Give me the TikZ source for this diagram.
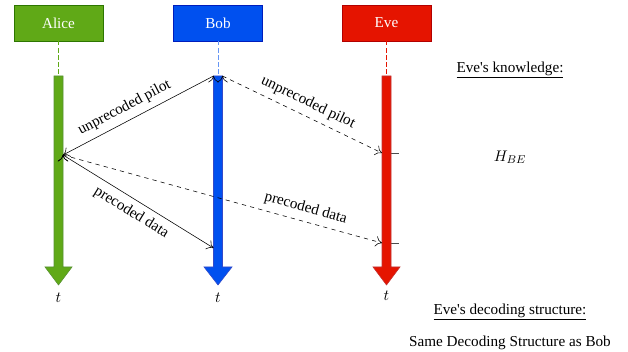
\documentclass[tikz,border=0pt]{standalone}
\usepackage{fontspec}
\setmainfont{Liberation Serif}
\usepackage{tikz}
\usetikzlibrary{arrows,arrows.meta,calc,positioning}
\definecolor{alicegreen}{HTML}{60A917}
\definecolor{aliceline}{HTML}{2D7600}
\definecolor{bobblue}{HTML}{0050EF}
\definecolor{bobline}{HTML}{001DBC}
\definecolor{evered}{HTML}{E51400}
\definecolor{eveline}{HTML}{B20000}

\begin{document}
\begin{tikzpicture}[x=0.025cm, y=-0.025cm, >={To[length=1.6mm,width=2.6mm]}, font=\fontsize{10.8}{13}\selectfont]
   \useasboundingbox (0,0) rectangle (628,352);
   \begin{scope}[every node/.style={rectangle,draw,text=white,minimum width=2.225cm,minimum height=0.9cm}]
    \node (alice) [fill=alicegreen, draw=aliceline] at (58.5,23) {Alice};
    \node (bob) [fill=bobblue, draw=bobline] at (218,23) {Bob};
    \node (eve) [fill=evered, draw=eveline] at (386.5,23) {Eve};
   \end{scope}

   % time bars
   \coordinate (atop) at (58.5,76);
   \coordinate (btop) at (218,76);
   \coordinate (etop) at (386.5,76);
   \draw [alicegreen, densely dashed] (alice.south) -- (atop);
   \draw [bobblue!60, densely dashed] (bob.south) -- (btop);
   \draw [evered, densely dashed] (eve.south) -- (etop);
   \draw [gray!60!black] (382,153) -- (399,153);
   \draw [gray!60!black] (382,243) -- (399,243);
   \filldraw [fill=alicegreen, draw=aliceline!80] (54,76) -- (54,267) -- (45,267) -- (58.5,285) -- (72,267) -- (63,267) -- (63,76) -- cycle;
   \filldraw [fill=bobblue, draw=bobline!80] (213.5,76) -- (213.5,267) -- (204,267) -- (218,285) -- (232,267) -- (222.5,267) -- (222.5,76) -- cycle;
   \filldraw [fill=evered, draw=eveline!80] (382,76) -- (382,267) -- (373,267) -- (386.5,285) -- (400,267) -- (391,267) -- (391,76) -- cycle;
   \node (ta) at (58.5,298) {$t$};
   \node (tb) at (218,298) {$t$};
   \node (te) at (386.5,296) {$t$};

   % messages
   \coordinate (a1) at (63,155);
   \coordinate (b0) at (213.5,76);
   \coordinate (b1) at (222.5,76);
   \coordinate (b2) at (213.5,248);
   \coordinate (e1) at (382,153);
   \coordinate (e2) at (382,243);
   \begin{scope}[->, every edge/.style={draw=black, thin}]
    \draw (b0) edge node[above=1pt, sloped, pos=0.55] {unprecoded pilot} (a1);
    \draw (b1) edge [dashed] node[above=1pt, sloped] {unprecoded pilot} (e1);
    \draw (a1) edge node[below=1pt, sloped] {precoded data} (b2);
    \draw (a1) edge [dashed] node[above=1pt, sloped, pos=0.75] {precoded data} (e2);
   \end{scope}

   % Eve's side
   \node (know) at (510,70) {\underline{Eve\textquotesingle s knowledge:}};
   \node (hbe) at (510,157) {$H_{BE}$};
   \node (struct) at (510,312) {\underline{Eve\textquotesingle s decoding structure:}};
   \node (same) [below=0.15cm of struct] {Same Decoding Structure as Bob};
\end{tikzpicture}
\end{document}
